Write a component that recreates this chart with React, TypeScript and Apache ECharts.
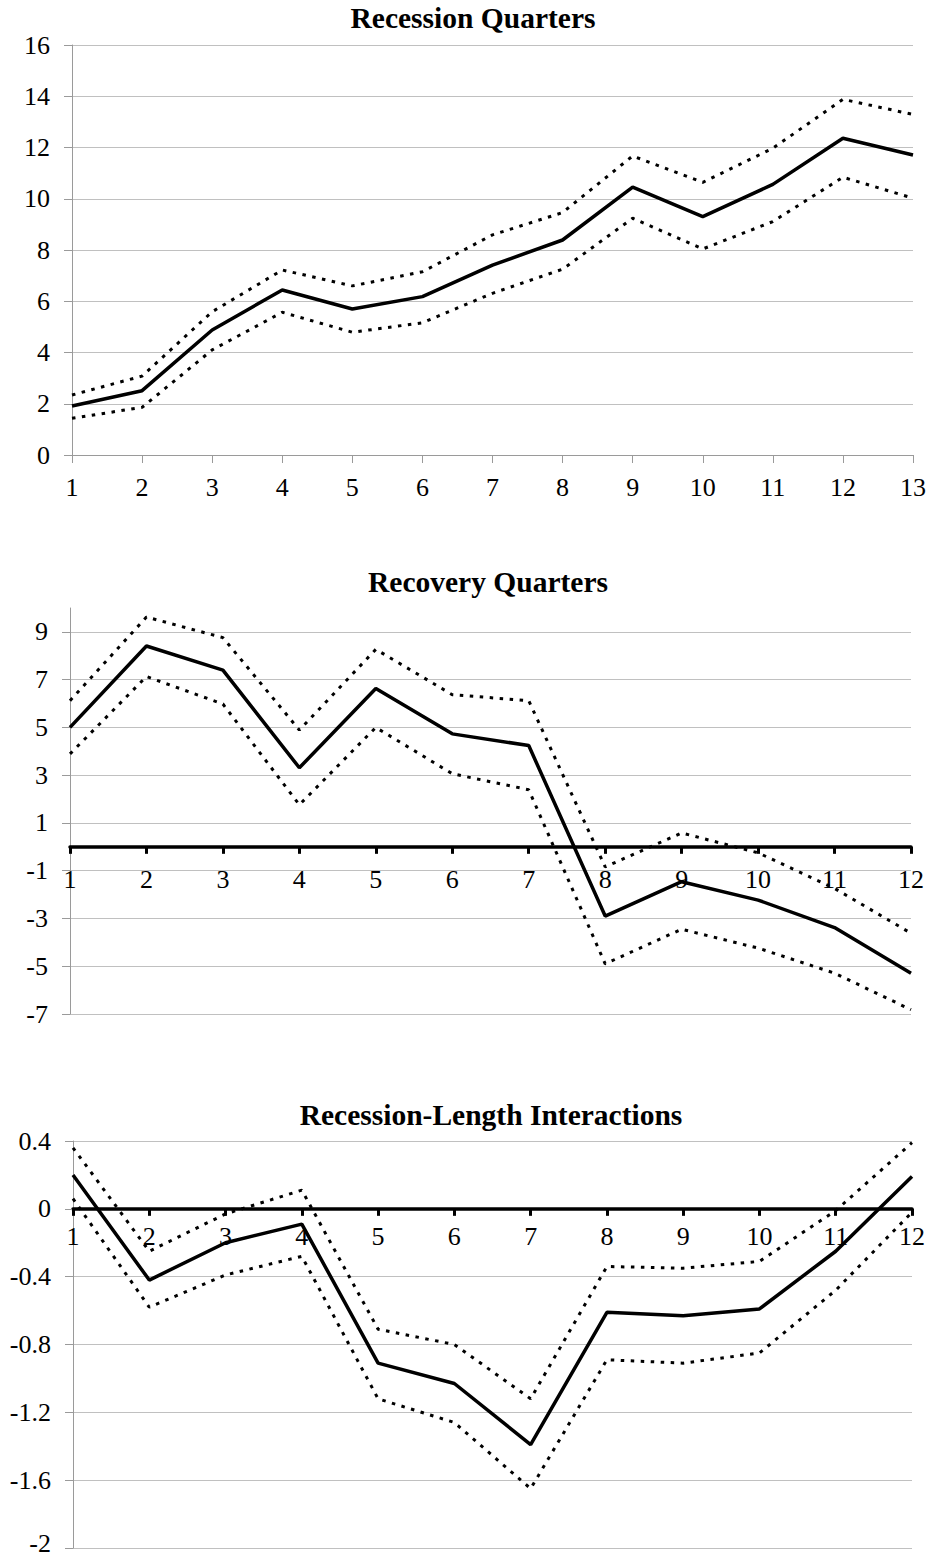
import React, { useEffect, useRef } from 'react';
import * as echarts from 'echarts';

// ---- Data ----
const recessionQuarters = ['1', '2', '3', '4', '5', '6', '7', '8', '9', '10', '11', '12', '13'];
const recessionMain = [1.91, 2.51, 4.88, 6.44, 5.70, 6.18, 7.41, 8.39, 10.45, 9.30, 10.56, 12.36, 11.71];
const recessionUpper = [2.34, 3.08, 5.59, 7.22, 6.60, 7.15, 8.59, 9.46, 11.67, 10.64, 11.97, 13.88, 13.29];
const recessionLower = [1.43, 1.86, 4.10, 5.57, 4.79, 5.16, 6.31, 7.25, 9.24, 8.04, 9.11, 10.84, 10.02];

const recoveryQuarters = ['1', '2', '3', '4', '5', '6', '7', '8', '9', '10', '11', '12'];
const recoveryMain = [5.00, 8.41, 7.40, 3.31, 6.63, 4.73, 4.24, -2.90, -1.46, -2.23, -3.38, -5.29];
const recoveryUpper = [6.12, 9.62, 8.76, 4.89, 8.27, 6.37, 6.12, -0.84, 0.58, -0.25, -1.74, -3.62];
const recoveryLower = [3.89, 7.13, 5.98, 1.76, 5.00, 3.06, 2.39, -4.90, -3.45, -4.24, -5.29, -6.82];

const interactionQuarters = ['1', '2', '3', '4', '5', '6', '7', '8', '9', '10', '11', '12'];
const interactionMain = [0.20, -0.42, -0.20, -0.09, -0.91, -1.03, -1.39, -0.61, -0.63, -0.59, -0.25, 0.19];
const interactionUpper = [0.36, -0.25, -0.03, 0.11, -0.71, -0.80, -1.12, -0.34, -0.35, -0.31, -0.01, 0.39];
const interactionLower = [0.06, -0.58, -0.39, -0.28, -1.12, -1.26, -1.65, -0.89, -0.91, -0.85, -0.48, -0.02];

const titles = ['Recession Quarters', 'Recovery Quarters', 'Recession-Length Interactions'];

const FONT = "'Liberation Serif', 'Times New Roman', serif";
const AXIS_GREY = '#9a9a9a';
const GRID_GREY = '#c0c0c0';
const LABEL_SIZE = 26;

const richStyles = {
  a: { fontSize: LABEL_SIZE, fontFamily: FONT, color: '#000' },
  lo: { fontSize: LABEL_SIZE, fontFamily: FONT, color: '#000', padding: [0, 0, 10, 0] },
};

function xAxisOf(gridIndex: number, data: string[], zeroLine: boolean, margin: number) {
  return {
    type: 'category',
    gridIndex,
    data,
    boundaryGap: false,
    axisLine: {
      show: true,
      onZero: true,
      lineStyle: zeroLine ? { color: '#000', width: 3.5 } : { color: AXIS_GREY, width: 1 },
    },
    axisTick: {
      show: true,
      interval: 0,
      length: zeroLine ? 7 : 8,
      lineStyle: zeroLine ? { color: '#000', width: 3 } : { color: AXIS_GREY, width: 1 },
    },
    axisLabel: {
      interval: 0,
      margin,
      fontSize: LABEL_SIZE,
      fontFamily: FONT,
      color: '#000',
      formatter: (v: string) => `{a|${v}}`,
      rich: richStyles,
    },
    splitLine: { show: false },
  };
}

function yAxisOf(
  gridIndex: number, min: number, max: number, interval: number, hideMax: boolean, liftMin: boolean
) {
  return {
    type: 'value',
    gridIndex,
    min,
    max,
    interval,
    axisLine: { show: true, onZero: false, lineStyle: { color: AXIS_GREY, width: 1 } },
    axisTick: { show: true, length: 8, lineStyle: { color: AXIS_GREY, width: 1 } },
    axisLabel: {
      margin: 22,
      fontSize: LABEL_SIZE,
      fontFamily: FONT,
      color: '#000',
      showMaxLabel: !hideMax,
      formatter: (v: number) => (liftMin && v === min ? `{lo|${v}}` : `{a|${v}}`),
      rich: richStyles,
    },
    splitLine: {
      show: true,
      showMaxLine: !hideMax,
      lineStyle: { color: GRID_GREY, width: 1 },
    },
  };
}

function seriesOf(idx: number, main: number[], upper: number[], lower: number[]) {
  const dotted = { color: '#000', width: 3, type: [3.5, 6.5] as any };
  return [
    {
      type: 'line', xAxisIndex: idx, yAxisIndex: idx, data: upper, symbol: 'none',
      lineStyle: dotted, z: 3,
    },
    {
      type: 'line', xAxisIndex: idx, yAxisIndex: idx, data: lower, symbol: 'none',
      lineStyle: dotted, z: 3,
    },
    {
      type: 'line', xAxisIndex: idx, yAxisIndex: idx, data: main, symbol: 'none',
      lineStyle: { color: '#000', width: 3.5, type: 'solid' }, z: 4,
    },
  ];
}

export default function App() {
  const ref = useRef<HTMLDivElement>(null);

  useEffect(() => {
    if (!ref.current) return;
    const chart = echarts.init(ref.current, undefined, { renderer: 'svg' });
    const titleStyle = (text: string) => ({
      text,
      fill: '#000',
      fontSize: 29.5,
      fontWeight: 'bold',
      fontFamily: FONT,
      align: 'center',
      verticalAlign: 'middle',
    });
    chart.setOption({
      animation: false,
      backgroundColor: '#fff',
      textStyle: { fontFamily: FONT },
      graphic: [
        { type: 'text', x: 473, y: 18, style: titleStyle(titles[0]) },
        { type: 'text', x: 488, y: 582, style: titleStyle(titles[1]) },
        { type: 'text', x: 491, y: 1115, style: titleStyle(titles[2]) },
      ],
      grid: [
        { left: 72, top: 45, width: 841, height: 410, containLabel: false, outerBoundsMode: 'none' },
        { left: 70, top: 608, width: 841, height: 406, containLabel: false, outerBoundsMode: 'none' },
        { left: 73, top: 1141, width: 839, height: 407, containLabel: false, outerBoundsMode: 'none' },
      ],
      xAxis: [
        xAxisOf(0, recessionQuarters, false, 19),
        xAxisOf(1, recoveryQuarters, true, -147.7),
        xAxisOf(2, interactionQuarters, true, -325),
      ],
      yAxis: [
        yAxisOf(0, 0, 16, 2, false, false),
        yAxisOf(1, -7, 10, 2, true, false),
        yAxisOf(2, -2, 0.4, 0.4, false, true),
      ],
      series: [
        ...seriesOf(0, recessionMain, recessionUpper, recessionLower),
        ...seriesOf(1, recoveryMain, recoveryUpper, recoveryLower),
        ...seriesOf(2, interactionMain, interactionUpper, interactionLower),
      ],
    });
    return () => chart.dispose();
  }, []);

  return (
    <div
      ref={ref}
      style={{
        position: 'absolute', left: 0, top: 0, width: 931, height: 1556,
        background: '#fff', fontFamily: FONT,
      }}
    />
  );
}
